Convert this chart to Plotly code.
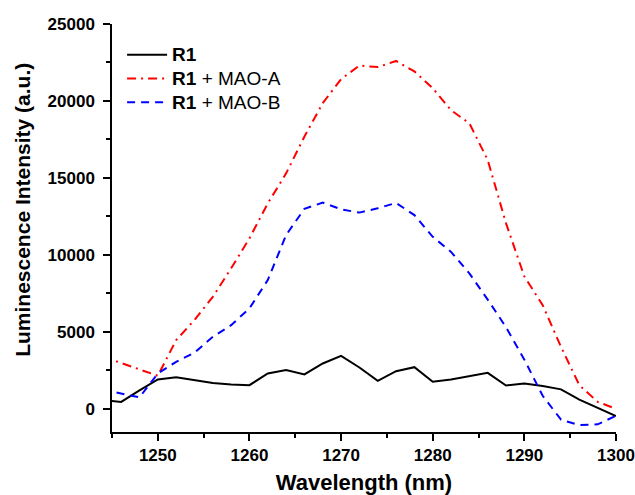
import plotly.graph_objects as go

wavelength = [1244, 1246, 1248, 1250, 1252, 1254, 1256, 1258, 1260, 1262, 1264, 1266, 1268, 1270,
              1272, 1274, 1276, 1278, 1280, 1282, 1284, 1286, 1288, 1290, 1292, 1294, 1296, 1298, 1300]

r1 = [585, 455, 1200, 1910, 2050, 1850, 1680, 1580, 1540, 2300, 2520, 2240, 2950, 3450,
      2690, 1820, 2450, 2710, 1760, 1910, 2120, 2340, 1520, 1650, 1490, 1270, 600, 60, -470]

r1_mao_a = [3400, 3000, 2600, 2150, 4470, 5770, 7280, 9130, 11080, 13350, 15300, 17690, 19860, 21420,
            22300, 22200, 22600, 21920, 20830, 19400, 18550, 16170, 12050, 8600, 6740, 4030, 1540, 460, 0]

r1_mao_b = [1250, 1000, 750, 2300, 3060, 3650, 4680, 5440, 6530, 8370, 11290, 13000, 13400, 12960,
            12750, 13030, 13380, 12590, 11180, 10200, 8800, 7100, 5300, 3200, 850, -700, -1050, -1000, -450]

names = ["<b>R1</b>", "<b>R1</b> + MAO-A", "<b>R1</b> + MAO-B"]

x_ticks = [1250, 1260, 1270, 1280, 1290, 1300]
x_tick_labels = ["1250", "1260", "1270", "1280", "1290", "1300"]
y_ticks = [0, 5000, 10000, 15000, 20000, 25000]
y_tick_labels = ["0", "5000", "10000", "15000", "20000", "25000"]

x_title = "<b>Wavelength (nm)</b>"
y_title = "<b>Luminescence Intensity (a.u.)</b>"

FONT = "Arial, Liberation Sans, sans-serif"


def legend_name(s):
    return '<span style="font-size:19px">' + s + "</span>"


fig = go.Figure()
fig.add_trace(go.Scatter(x=wavelength, y=r1, mode="lines", name=legend_name(names[0]),
                         line=dict(color="black", width=2)))
fig.add_trace(go.Scatter(x=wavelength, y=r1_mao_a, mode="lines", name=legend_name(names[1]),
                         line=dict(color="#ff0000", width=2, dash="9px,5px,2px,5px")))
fig.add_trace(go.Scatter(x=wavelength, y=r1_mao_b, mode="lines", name=legend_name(names[2]),
                         line=dict(color="#0000ff", width=2, dash="8px,6px")))

axis_common = dict(showline=True, linecolor="black", linewidth=1.5, showgrid=False, zeroline=False,
                   ticks="outside", ticklen=7, tickwidth=1.5, tickcolor="black", automargin=False,
                   ticklabeloverflow="allow",
                   tickfont=dict(family=FONT, size=17, color="black", weight="bold"))

fig.update_xaxes(range=[1245, 1300], tickvals=x_ticks, ticktext=x_tick_labels,
                 minor=dict(ticks="outside", ticklen=4, tickwidth=1.5, tickcolor="black", dtick=5, tick0=1245),
                 title=dict(text=x_title, font=dict(family=FONT, size=22, color="black"), standoff=16),
                 **axis_common)
fig.update_yaxes(range=[-1500, 25000], tickvals=y_ticks, ticktext=y_tick_labels, ticklabelstandoff=5,
                 minor=dict(ticks="outside", ticklen=4, tickwidth=1.5, tickcolor="black", dtick=2500, tick0=0),
                 **axis_common)

fig.add_annotation(text=y_title, textangle=-90, xref="paper", yref="paper",
                   x=-0.179, y=0.544, xanchor="center", yanchor="middle", showarrow=False,
                   font=dict(family=FONT, size=21, color="black"))

fig.update_layout(
    width=635, height=495,
    margin=dict(l=112, r=19, t=24, b=63),
    plot_bgcolor="white", paper_bgcolor="white",
    font=dict(family=FONT, color="black"),
    legend=dict(x=0.02, y=0.966, xanchor="left", yanchor="top", bgcolor="rgba(0,0,0,0)",
                font=dict(family=FONT, size=16, color="black"), tracegroupgap=0, itemwidth=40),
    showlegend=True,
)

fig.write_html("out.html")
